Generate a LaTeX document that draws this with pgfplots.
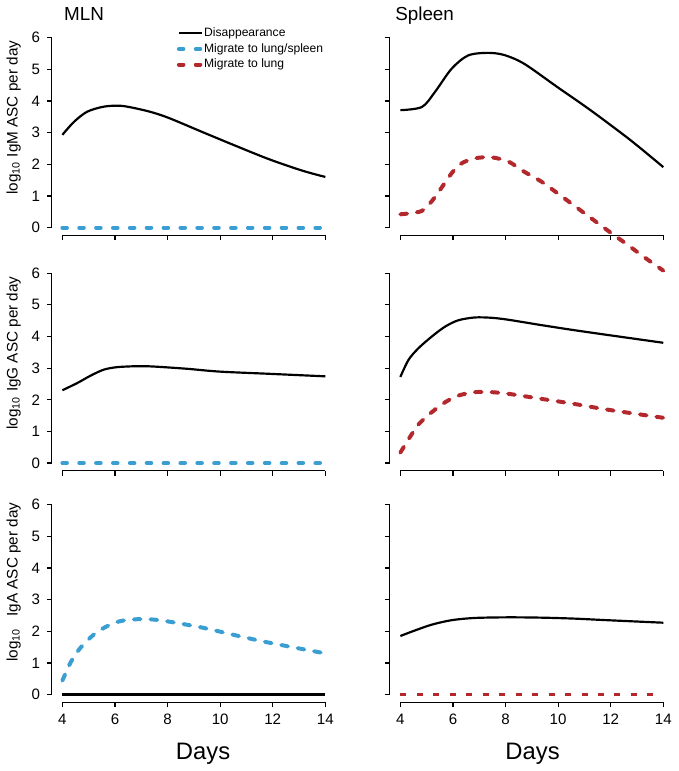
\documentclass[border=0pt]{standalone}
\usepackage{fontspec}
\setmainfont{Liberation Sans}
\usepackage{pgfplots}
\pgfplotsset{compat=1.18}

\definecolor{ascblue}{RGB}{58,158,210}
\definecolor{ascred}{RGB}{178,40,45}

\tikzset{
  solidline/.style={black, line width=1.1pt},
  curvedash/.style={line width=2pt, line cap=round, dash pattern=on 3.4pt off 5pt},
  zerodash/.style={line width=2pt, line cap=round, dash pattern=on 2.3pt off 6.2pt},
  squaredash/.style={line width=1.6pt, dash pattern=on 3pt off 5.3pt},
  ylab/.style={font=\fontsize{7.7}{9}\selectfont, rotate=90, anchor=center},
}

\pgfplotsset{
  panel/.style={
    scale only axis, width=143.1pt, height=103.35pt,
    xmin=3.6, xmax=14.4, ymin=-0.24, ymax=6.24,
    axis x line*=bottom, axis y line*=left,
    axis line style={draw=none},
    xtick={4,6,...,14}, ytick={0,...,6},
    tick align=outside, major tick length=2.5pt,
    tick style={line width=0.6pt, black},
    tick label style={font=\fontsize{7.6}{8.5}\selectfont},
    /pgf/number format/assume math mode=true,
    clip=false,
    every axis plot/.append style={smooth},
    after end axis/.append code={
      \draw[line width=0.6pt] (axis cs:4,-0.24) -- (axis cs:14,-0.24)
                              (axis cs:3.6,0) -- (axis cs:3.6,6);
    },
  },
}

\begin{document}
\begin{tikzpicture}
\path (0,0) rectangle (337pt,385.5pt);

% IgM, MLN
\begin{axis}[panel, at={(23.85pt,268.3pt)}, anchor=south west, xticklabels={},
    legend style={at={(axis cs:8.34,6.33)}, anchor=north west, draw=none, fill=none,
      inner sep=0pt, row sep=2.05pt, font=\fontsize{6.1}{7}\selectfont,
      nodes={inner sep=0pt, text height=4.5pt, text depth=1.3pt},
      /tikz/every even column/.append style={column sep=5.8pt}},
    legend cell align=left,
    legend image code/.code={\draw[#1] (0pt,0pt) -- (11.7pt,0pt);}]
\addplot[solidline] coordinates {(4,2.93)(4.44,3.34)(4.94,3.66)(5.57,3.82)(6.2,3.85)(6.83,3.76)(7.46,3.63)(8.09,3.45)(9.35,3.01)(10.6,2.58)(11.86,2.16)(13.12,1.80)(14,1.60)};
\addlegendentry{Disappearance}
\addplot[ascblue, zerodash, sharp plot] coordinates {(4,0)(14,0)};
\addlegendentry{Migrate to lung/spleen}
\addlegendimage{ascred, zerodash}
\addlegendentry{Migrate to lung}
\node[anchor=base west, font=\fontsize{9.5}{11}\selectfont] at (axis cs:3.8,6.55) {MLN};
\node[ylab] at (axis cs:2.15,3.47) {log\textsubscript{10} IgM ASC per day};
\end{axis}

% IgM, Spleen
\begin{axis}[panel, at={(194.15pt,268.3pt)}, anchor=south west, xticklabels={}, yticklabels={}]
\addplot[solidline] coordinates {(4,3.71)(4.82,3.81)(5.32,4.29)(5.95,5.02)(6.58,5.44)(7.34,5.52)(7.96,5.45)(8.72,5.17)(9.97,4.44)(11.23,3.71)(12.74,2.77)(14,1.91)};
\addplot[ascred, curvedash] coordinates {(4,0.42)(4.8,0.52)(5.2,0.84)(5.6,1.3)(6,1.77)(6.35,2.04)(6.85,2.19)(7.45,2.22)(8.1,2.09)(8.7,1.77)(9.35,1.46)(10,1.07)(10.6,0.70)(11.25,0.30)(11.85,-0.07)(12.5,-0.46)(13.5,-1.07)(14,-1.36)};
\node[anchor=base west, font=\fontsize{9.5}{11}\selectfont] at (axis cs:3.54,6.55) {Spleen};
\end{axis}

% IgG, MLN
\begin{axis}[panel, at={(23.85pt,149.65pt)}, anchor=south west, xticklabels={}]
\addplot[solidline] coordinates {(4,2.30)(4.57,2.53)(5.07,2.76)(5.57,2.95)(6.08,3.03)(6.83,3.06)(7.46,3.05)(8.72,2.98)(9.97,2.89)(11.86,2.82)(14,2.74)};
\addplot[ascblue, zerodash, sharp plot] coordinates {(4,0)(14,0)};
\node[ylab] at (axis cs:2.15,3.48) {log\textsubscript{10} IgG ASC per day};
\end{axis}

% IgG, Spleen
\begin{axis}[panel, at={(194.15pt,149.65pt)}, anchor=south west, xticklabels={}, yticklabels={}]
\addplot[solidline] coordinates {(4,2.72)(4.31,3.26)(4.69,3.63)(5.2,4.0)(5.7,4.31)(6.2,4.51)(6.83,4.60)(7.46,4.59)(8.09,4.53)(9.35,4.36)(10.6,4.2)(11.86,4.05)(14,3.80)};
\addplot[ascred, curvedash] coordinates {(4,0.33)(4.31,0.75)(4.69,1.22)(5.2,1.61)(5.7,1.92)(6.2,2.13)(6.83,2.24)(7.46,2.24)(8.09,2.19)(9.35,2.03)(10.6,1.87)(11.86,1.69)(14,1.43)};
\end{axis}

% IgA, MLN
\begin{axis}[panel, at={(23.85pt,33pt)}, anchor=south west]
\addplot[ascblue, curvedash] coordinates {(4,0.44)(4.31,1.01)(4.69,1.48)(5.2,1.9)(5.7,2.16)(6.2,2.32)(6.83,2.38)(7.46,2.37)(8.09,2.30)(9.35,2.11)(10.6,1.87)(11.86,1.64)(14,1.30)};
\addplot[solidline, sharp plot] coordinates {(4,0)(14,0)};
\node[ylab] at (axis cs:2.15,3.55) {log\textsubscript{10}\hspace{0.5em} IgA ASC per day};
\node[anchor=base, font=\fontsize{12}{14}\selectfont] at (axis cs:9.35,-2.05) {Days};
\end{axis}

% IgA, Spleen
\begin{axis}[panel, at={(194.15pt,33pt)}, anchor=south west, yticklabels={}]
\addplot[solidline] coordinates {(4,1.85)(4.57,2.03)(5.2,2.21)(5.95,2.35)(6.83,2.42)(8.09,2.44)(9.35,2.43)(10.6,2.40)(11.86,2.35)(14,2.27)};
\addplot[ascred, squaredash, sharp plot] coordinates {(4,0)(14,0)};
\node[anchor=base, font=\fontsize{12}{14}\selectfont] at (axis cs:9.03,-2.05) {Days};
\end{axis}
\end{tikzpicture}
\end{document}
